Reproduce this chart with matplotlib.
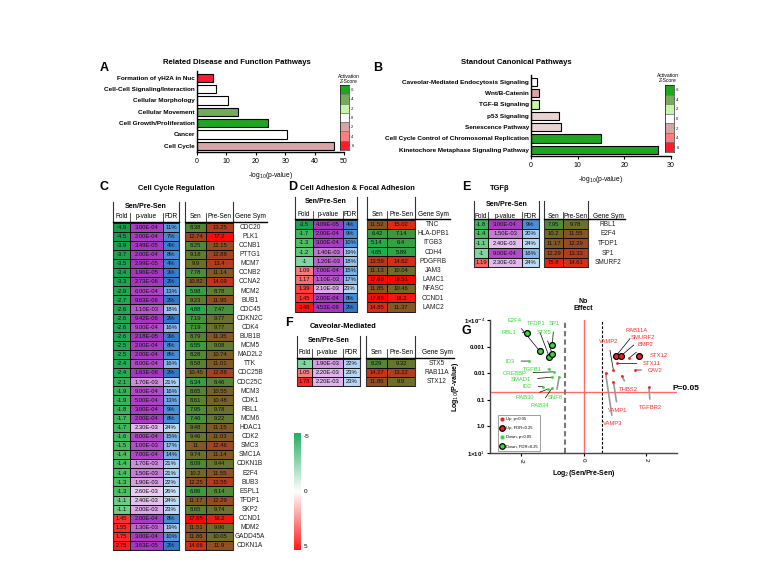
import matplotlib
matplotlib.use('Agg')
import matplotlib.pyplot as plt
from matplotlib.colors import LinearSegmentedColormap, ListedColormap, Normalize
from matplotlib.patches import Rectangle
from matplotlib.lines import Line2D
import numpy as np

plt.rcParams['font.family'] = ['Liberation Sans', 'DejaVu Sans']

# ==================== DATA ====================
# A - related disease and function pathways
a_labels = ['Formation of γH2A in Nuc', 'Cell-Cell Signaling/Interaction', 'Cellular Morphology',
            'Cellular Movement', 'Cell Growth/Proliferation', 'Cancer', 'Cell Cycle']
a_logp = [5.4, 6.4, 10.5, 14.1, 24.1, 30.6, 46.6]
a_z = [6, 0, 0, -4, -6, 0, 2]

# B - canonical pathways
b_labels = ['Caveolar-Mediated Endocytosis Signaling', 'Wnt/B-Catenin', 'TGF-B Signaling',
            'p53 Signaling', 'Senescence Pathway', 'Cell Cycle Control of Chromosomal Replication',
            'Kinetochore Metaphase Signaling Pathway']
b_logp = [1.35, 1.8, 1.7, 6.1, 6.4, 15.1, 27.2]
b_z = [0, 2, -2, 1, 1, -6, -6]

z_ticks = [-6, -4, -2, 0, 2, 4, 6]

# C - cell cycle regulation
c_genes = ['CDC20', 'PLK1', 'CCNB1', 'PTTG1', 'MCM7', 'CCNB2', 'CCNA2', 'MCM2', 'BUB1', 'CDC45',
           'CDKN2C', 'CDK4', 'BUB1B', 'MCM5', 'MAD2L2', 'TTK', 'CDC25B', 'CDC25C', 'MCM3', 'CDK1',
           'RBL1', 'MCM6', 'HDAC1', 'CDK2', 'SMC3', 'SMC1A', 'CDKN1B', 'E2F4', 'BUB3', 'ESPL1',
           'TFDP1', 'SKP2', 'CCND1', 'MDM2', 'GADD45A', 'CDKN1A']
c_fold = [-4.9, -4.5, -3.9, -3.7, -3.5, -3.4, -3.3, -2.9, -2.7, -2.6, -2.6, -2.6, -2.6, -2.5, -2.5,
          -2.4, -2.4, -2.1, -1.9, -1.9, -1.8, -1.7, -1.7, -1.6, -1.5, -1.4, -1.4, -1.4, -1.3, -1.3,
          -1.1, -1.1, 1.45, 1.55, 1.75, 2.75]
c_p = [3.00e-4, 2.00e-4, 3.49e-5, 2.00e-4, 2.99e-5, 1.96e-5, 2.73e-6, 6.00e-4, 9.63e-6, 1.10e-3,
       9.42e-6, 9.00e-4, 2.18e-5, 2.00e-4, 2.00e-4, 8.00e-4, 1.63e-6, 1.70e-3, 9.00e-4, 5.00e-4,
       3.00e-4, 2.00e-4, 2.30e-3, 8.00e-4, 1.00e-3, 7.00e-4, 1.70e-3, 1.50e-3, 1.90e-3, 2.60e-3,
       2.40e-3, 2.00e-3, 2.00e-4, 1.30e-3, 3.00e-4, 3.63e-5]
c_fdr = [11, 7, 4, 8, 4, 3, 2, 13, 2, 18, 2, 16, 3, 8, 8, 16, 2, 21, 16, 13, 9, 8, 24, 15, 17, 14,
         21, 21, 22, 26, 24, 23, 8, 19, 10, 2]
c_sen = [8.38, 12.74, 8.25, 9.18, 9.9, 7.78, 10.82, 5.98, 9.23, 4.88, 7.19, 7.19, 8.79, 6.55, 8.28,
         8.58, 10.45, 6.34, 8.65, 8.61, 7.95, 7.46, 9.48, 9.46, 11, 9.74, 8.09, 10.2, 12.25, 6.86,
         11.17, 8.65, 17.65, 11.51, 11.86, 14.66]
c_pre = [13.25, 17.2, 12.15, 12.88, 13.4, 11.14, 14.09, 8.78, 11.95, 7.47, 9.77, 9.77, 11.35, 9.08,
         10.74, 11.01, 12.88, 8.46, 10.55, 10.48, 9.78, 9.22, 11.15, 11.03, 12.46, 11.14, 9.44,
         11.55, 13.55, 8.14, 12.29, 9.74, 16.2, 9.96, 10.05, 11.9]

# D - cell adhesion & focal adhesion
d_genes = ['TNC', 'HLA-DPB1', 'ITGB3', 'CDH4', 'PDGFRB', 'JAM3', 'LAMC1', 'NFASC', 'CCND1', 'LAMC2']
d_fold = [-3.5, -1.7, -1.3, -1.2, -1, 1.09, 1.17, 1.39, 1.45, 3.48]
d_p = [4.09e-5, 2.00e-4, 3.00e-4, 1.40e-3, 1.20e-3, 7.00e-4, 1.10e-3, 2.10e-3, 2.00e-4, 4.53e-6]
d_fdr = [4, 9, 10, 19, 18, 15, 17, 23, 8, 2]
d_sen = [11.52, 6.42, 5.14, 4.65, 13.59, 11.13, 17.68, 11.85, 17.65, 14.85]
d_pre = [15.02, 7.14, 6.4, 5.89, 14.62, 10.04, 18.51, 10.46, 16.2, 11.37]

# E - TGFb
e_genes = ['RBL1', 'E2F4', 'TFDP1', 'SP1', 'SMURF2']
e_fold = [-1.8, -1.4, -1.1, -1, 1.19]
e_p = [3.00e-4, 1.50e-3, 2.40e-3, 9.00e-4, 2.30e-3]
e_fdr = [9, 20, 24, 16, 24]
e_sen = [7.95, 10.2, 11.17, 12.29, 15.8]
e_pre = [9.78, 11.55, 12.29, 13.33, 14.61]

# F - caveolar-mediated
f_genes = ['STX5', 'RAB11A', 'STX12']
f_fold = [-1, 1.05, 1.78]
f_p = [1.90e-3, 2.20e-3, 2.20e-3]
f_fdr = [22, 23, 23]
f_sen = [8.29, 14.27, 11.86]
f_pre = [9.32, 13.22, 9.9]

# G - volcano
g_genes = ['RBL1', 'E2F4', 'TFDP1', 'SP1', 'STX5',
           'ID3', 'TGFB1', 'CREBBP', 'SMAD1', 'SNF8', 'ID2', 'RAB30', 'RAB34',
           'RAB11A', 'SMURF2', 'STX12',
           'VAMP2', 'BMP2', 'STX11', 'CAV2', 'THBS2', 'VAMP1', 'VAMP3', 'TGFBR2']
g_fold = [-1.8, -1.4, -1.1, -1, -1,
          -1.74, -1.1, -0.96, -1.0, -0.78, -1.31, -1.15, -1.0,
          1.05, 1.19, 1.78,
          0.96, 1.46, 1.09, 1.66, 1.23, 0.96, 0.71, 2.1]
g_p = [3.0e-4, 1.5e-3, 2.4e-3, 9.0e-4, 1.9e-3,
       3.5e-3, 7.0e-3, 8.9e-3, 1.4e-2, 1.35e-2, 3.2e-2, 4.0e-2, 3.5e-2,
       2.2e-3, 2.3e-3, 2.2e-3,
       7.6e-3, 2.7e-3, 4.3e-3, 7.6e-3, 1.27e-2, 2.1e-2, 1.0e-2, 3.4e-2]
g_fdr_ok = [True] * 5 + [False] * 8 + [True] * 3 + [False] * 8

# label positions (fold, p) for the volcano annotations
g_text = {'RBL1': (-2.4, 3.0e-4), 'E2F4': (-2.2, 1.05e-4), 'TFDP1': (-1.5, 1.4e-4), 'SP1': (-0.95, 1.3e-4),
          'STX5': (-1.25, 2.9e-4), 'ID3': (-2.35, 3.5e-3), 'TGFB1': (-1.65, 7.0e-3),
          'CREBBP': (-2.2, 1.0e-2), 'SMAD1': (-2.0, 1.8e-2), 'ID2': (-1.8, 3.1e-2),
          'RAB30': (-1.9, 8.5e-2), 'SNF8': (-0.9, 8.5e-2), 'RAB34': (-1.4, 1.7e-1),
          'RAB11A': (1.7, 2.5e-4), 'SMURF2': (1.9, 4.5e-4), 'BMP2': (2.0, 8.5e-4),
          'STX12': (2.4, 2.2e-3), 'STX11': (2.2, 4.3e-3), 'CAV2': (2.3, 7.6e-3),
          'VAMP2': (0.8, 6.5e-4), 'THBS2': (1.45, 4.0e-2), 'TGFBR2': (2.15, 0.2),
          'VAMP1': (1.1, 0.25), 'VAMP3': (0.95, 0.8)}
g_grey = ['SNF8', 'VAMP1', 'VAMP3', 'TGFBR2', 'THBS2']

# ==================== FIGURE ====================
W, H = 771, 581
fig = plt.figure(figsize=(W / 100, H / 100), dpi=100)


def box(l, t, r, b):
    return [l / W, 1 - b / H, (r - l) / W, (b - t) / H]


ov = fig.add_axes([0, 0, 1, 1])
ov.set_xlim(0, W)
ov.set_ylim(H, 0)
ov.axis('off')

z_colors = ['#1fa61f', '#72ad58', '#c4f5a8', '#ffffff', '#d6a6a6', '#ff7d7d', '#ff1a2e']
z_cmap = LinearSegmentedColormap.from_list('z', z_colors)
z_norm = Normalize(-6, 6)

fold_cmap = LinearSegmentedColormap.from_list('fold', [
    (0.0, '#169a4c'), (0.25, '#20a955'), (0.37, '#4cc060'), (0.40, '#7fd6a0'), (0.5, '#ffffff'),
    (0.60, '#f08a8a'), (0.65, '#ff2a2a'), (1.0, '#ff0000')])
fold_norm = Normalize(-5, 5)
p_cmap = LinearSegmentedColormap.from_list('p', ['#a436c0', '#b24ec8', '#d9a6e6', '#f2e4f8'])
p_norm = Normalize(0, 0.003)
fdr_cmap = LinearSegmentedColormap.from_list('fdr', ['#2a72c8', '#4a90d8', '#9cc6ee', '#d6eafb'])
fdr_norm = Normalize(0, 28)
ex_cmap = LinearSegmentedColormap.from_list('ex', [
    (0.0, '#1fb04e'), (0.18, '#3c9a3c'), (0.32, '#5e7d2e'), (0.46, '#7d5c24'),
    (0.60, '#a5421f'), (0.75, '#dd2a15'), (0.9, '#ff0a0a'), (1.0, '#ff0000')])
ex_norm = Normalize(4.5, 18.5)


def bar_panel(rect, labels, vals, zs, xmax, title, tx, letter, lx, cb_rect, cb_lbl):
    ax = fig.add_axes(box(*rect))
    ax.patch.set_visible(False)
    y = np.arange(len(labels))[::-1]
    ax.barh(y, vals, height=0.72, color=[z_cmap(z_norm(z)) for z in zs],
            edgecolor='black', linewidth=0.8)
    ax.set_yticks(y)
    ax.set_yticklabels(labels, fontsize=4.6, fontweight='bold')
    ax.set_xlim(0, xmax)
    ax.set_ylim(-0.55, len(labels) - 0.4)
    ax.set_xticks(np.arange(0, xmax + 1, 10))
    ax.tick_params(axis='x', labelsize=5, length=2.5, width=0.8, pad=1.5)
    ax.tick_params(axis='y', length=0, pad=1.5)
    for s in ['top', 'right']:
        ax.spines[s].set_visible(False)
    for s in ['left', 'bottom']:
        ax.spines[s].set_linewidth(1.0)
    ax.set_xlabel('-log$_{10}$(p-value)', fontsize=4.8, labelpad=4)
    fig.text(tx / W, 1 - 63 / H, title, fontsize=5.6, fontweight='bold', ha='center', va='center')
    fig.text(lx / W, 1 - 68 / H, letter, fontsize=9, fontweight='bold', ha='left', va='center')
    # activation z-score key
    cax = fig.add_axes(box(*cb_rect))
    cax.imshow(np.array(z_ticks).reshape(-1, 1), cmap=ListedColormap(z_colors), norm=z_norm,
               aspect='auto', extent=(0, 1, len(z_ticks), 0))
    for i in range(len(z_ticks)):
        cax.add_patch(Rectangle((0, i), 1, 1, fill=False, edgecolor='#777777', lw=0.4))
    cax.set_xticks([])
    cax.set_yticks(np.arange(len(z_ticks)) + 0.5)
    cax.set_yticklabels([str(z) for z in z_ticks], fontsize=2.8)
    cax.yaxis.tick_right()
    cax.tick_params(axis='y', length=1, width=0.3, pad=1)
    for s in cax.spines.values():
        s.set_linewidth(0.4)
    fig.text(cb_lbl[0] / W, 1 - cb_lbl[1] / H, 'Activation\nZ-Score', fontsize=3.6, ha='center',
             va='center', linespacing=0.95)
    return ax


bar_panel((197, 71, 344, 152), a_labels, a_logp, a_z, 50,
          'Related Disease and Function Pathways', 237, 'A', 100,
          (339.5, 85, 348.5, 150), (349, 79))
bar_panel((531, 75, 671, 156), b_labels, b_logp, b_z, 30,
          'Standout Canonical Pathways', 516, 'B', 373,
          (665, 85, 673.5, 152), (668, 78))


# ==================== TABLES ====================
def table(xs, gene_x, y0, rh, h1, h2, top, fold, pv, fdr, sen, pre, genes, fs=4.2):
    xa, xb, xc, xd, xe, xf, xg = xs
    for i in range(len(genes)):
        t = y0 + i * rh
        cy = t + rh / 2
        cells = [(xa, xb, fold_cmap(fold_norm(fold[i])), '%g' % fold[i]),
                 (xb, xc, p_cmap(p_norm(pv[i])), '%.2E' % pv[i]),
                 (xc, xd, fdr_cmap(fdr_norm(fdr[i])), '%d%%' % fdr[i]),
                 (xe, xf, ex_cmap(ex_norm(sen[i])), '%g' % sen[i]),
                 (xf, xg, ex_cmap(ex_norm(pre[i])), '%g' % pre[i])]
        for l, r, c, s in cells:
            ov.add_patch(Rectangle((l, t), r - l, rh, facecolor=c, edgecolor='black', lw=0.6))
            ov.text((l + r) / 2, cy + 0.3, s, fontsize=fs, ha='center', va='center', color='#111111')
        ov.text(gene_x, cy + 0.3, genes[i], fontsize=fs + 0.5, ha='center', va='center',
                color='#222222')
    hs = fs + 0.5
    ov.text((xa + xd) / 2, h1, 'Sen/Pre-Sen', fontsize=hs + 0.4, fontweight='bold', ha='center', va='center')
    for l, r, s in [(xa, xb, 'Fold'), (xb, xc, 'p-value'), (xc, xd, 'FDR'), (xe, xf, 'Sen'),
                    (xf, xg, 'Pre-Sen')]:
        ov.text((l + r) / 2, h2, s, fontsize=hs, ha='center', va='center')
    ov.text(gene_x, h2, 'Gene Sym', fontsize=hs, ha='center', va='center')
    bottom = y0 + len(genes) * rh
    for x in (xa, xd, xe, xg):
        ov.plot([x, x], [top, bottom], color='#333333', lw=0.8)
    for x in (xb, xc, xf):
        ov.plot([x, x], [h2 - 4, y0], color='#333333', lw=0.6)
    ov.plot([xa, xd], [y0 - 0.3, y0 - 0.3], color='black', lw=1.0)
    ov.plot([xe, gene_x + 17], [y0 - 0.3, y0 - 0.3], color='black', lw=1.0)


# C
ov.text(100, 187, 'C', fontsize=9, fontweight='bold', ha='left', va='center')
ov.text(176, 189, 'Cell Cycle Regulation', fontsize=5.4, fontweight='bold', ha='center', va='center')
table((113, 130, 163, 179, 185, 206, 233), 250, 222.5, 9.1, 206.5, 217, 202,
      c_fold, c_p, c_fdr, c_sen, c_pre, c_genes)

# D
ov.text(288, 187, 'D', fontsize=9, fontweight='bold', ha='left', va='center')
ov.text(357, 188, 'Cell Adhesion & Focal Adhesion', fontsize=5.4, fontweight='bold', ha='center', va='center')
table((295, 313, 343, 357, 367, 387, 415), 433, 219.5, 9.2, 201.5, 214.5, 197,
      d_fold, d_p, d_fdr, d_sen, d_pre, d_genes)

# E
ov.text(462, 187, 'E', fontsize=9, fontweight='bold', ha='left', va='center')
ov.text(500, 188, 'TGFβ', fontsize=5.4, fontweight='bold', ha='center', va='center')
table((474, 488, 522, 539, 544, 563, 588), 608, 219.2, 9.6, 205, 216, 201,
      e_fold, e_p, e_fdr, e_sen, e_pre, e_genes)

# F
ov.text(285, 323, 'F', fontsize=9, fontweight='bold', ha='left', va='center')
ov.text(343, 326, 'Caveolar-Mediated', fontsize=5.4, fontweight='bold', ha='center', va='center')
table((297, 312, 343, 360, 366, 387, 415), 437, 358.5, 9.0, 340, 353, 336,
      f_fold, f_p, f_fdr, f_sen, f_pre, f_genes)

# shared colour key for the tables
kax = fig.add_axes(box(294, 433, 300.5, 550))
kax.imshow(np.linspace(-5, 5, 256).reshape(-1, 1), cmap=LinearSegmentedColormap.from_list(
    'key', ['#22b060', '#ffffff', '#ff1a1a']), aspect='auto', extent=(0, 1, 5, -5))
kax.set_xticks([])
kax.set_yticks([])
for s in kax.spines.values():
    s.set_visible(False)
for v in (-5, 0, 5):
    ov.text(304, 433 + (v + 5) / 10 * 117 + (3 if v == -5 else (-3 if v == 5 else 0)), '%d' % v,
            fontsize=4.6, ha='left', va='center')

# ==================== G: VOLCANO ====================
ov.text(462, 331, 'G', fontsize=9, fontweight='bold', ha='left', va='center')
ax = fig.add_axes(box(490, 320, 677, 453))
ax.patch.set_visible(False)
ax.set_yscale('log')
ax.set_xlim(-3, 3)
ax.set_ylim(10, 1e-4)
ax.set_yticks([1e-4, 1e-3, 1e-2, 1e-1, 1, 10])
ax.set_yticklabels(['1×10$^{-4}$', '0.001', '0.01', '0.1', '1.0', '1×10$^{1}$'], fontsize=4.3,
                   fontweight='bold')
ax.yaxis.set_minor_locator(matplotlib.ticker.NullLocator())
ax.set_xticks([-2, 0, 2])
ax.set_xticklabels(['-2', '0', '2'], fontsize=4.5, rotation=-90)
ax.tick_params(length=2, width=0.8, pad=1.5)
for s in ['top', 'right']:
    ax.spines[s].set_visible(False)
for s in ['left', 'bottom']:
    ax.spines[s].set_linewidth(1.0)
    ax.spines[s].set_color('#444444')
ax.set_xlabel('Log$_2$(Sen/Pre-Sen)', fontsize=5, fontweight='bold', labelpad=3)
ax.set_ylabel('Log$_{10}$(P-value)', fontsize=5, fontweight='bold', labelpad=2)

ax.axvline(0, color='#ff6b6b', lw=1.0, zorder=1)
ax.axhline(0.05, color='#ff6b6b', lw=1.0, zorder=1)
ax.axvline(-0.585, color='#777777', lw=1.5, ls=(0, (2.5, 1.5)), zorder=1)
ax.axvline(0.585, color='black', lw=0.8, ls=(0, (2.5, 1.5)), zorder=1)

red, green = '#ff1a1a', '#33dd33'
for g, fx, pv, big in zip(g_genes, g_fold, g_p, g_fdr_ok):
    col = red if fx > 0 else green
    if big:
        ax.plot(fx, pv, 'o', ms=4.2, mfc=col, mec='black', mew=0.9, zorder=4)
    else:
        ax.plot(fx, pv, 'o', ms=2.0, mfc=col, mec=col, mew=0, zorder=4)
    tx, ty = g_text[g]
    lc = '#999999' if g in g_grey else 'black'
    lw = 1.2 if g in g_grey else 0.5
    ax.annotate(g, (fx, pv), xytext=(tx, ty), fontsize=4.2, color=col if fx < 0 else '#ff2a2a',
                ha='center', va='center',
                arrowprops=dict(arrowstyle='-', color=lc, lw=lw, shrinkA=2.5, shrinkB=0),
                annotation_clip=False, zorder=3)

ax.text(0, 1.06, 'No\nEffect', transform=ax.get_xaxis_transform(), fontsize=5, fontweight='bold',
        ha='center', va='bottom', linespacing=1.0)
ax.text(2.85, 0.05, 'P=0.05', fontsize=6, fontweight='bold', ha='left', va='bottom', clip_on=False)

handles = [Line2D([], [], ls='', marker='o', ms=2, mfc=red, mec=red),
           Line2D([], [], ls='', marker='o', ms=4, mfc=red, mec='black', mew=0.9),
           Line2D([], [], ls='', marker='o', ms=2, mfc=green, mec=green),
           Line2D([], [], ls='', marker='o', ms=4, mfc=green, mec='black', mew=0.9)]
ax.legend(handles, ['Up, p<0.05', 'Up, FDR<0.25', 'Down, p<0.05', 'Down, FDR<0.25'],
          loc='lower left', bbox_to_anchor=(0.03, 0.0), fontsize=3, frameon=True, fancybox=False,
          edgecolor='#555555', borderpad=0.6, labelspacing=1.2, handletextpad=0.3,
          handlelength=1.0).get_frame().set_linewidth(0.5)

fig.savefig('out.png', dpi=100, facecolor='white')
